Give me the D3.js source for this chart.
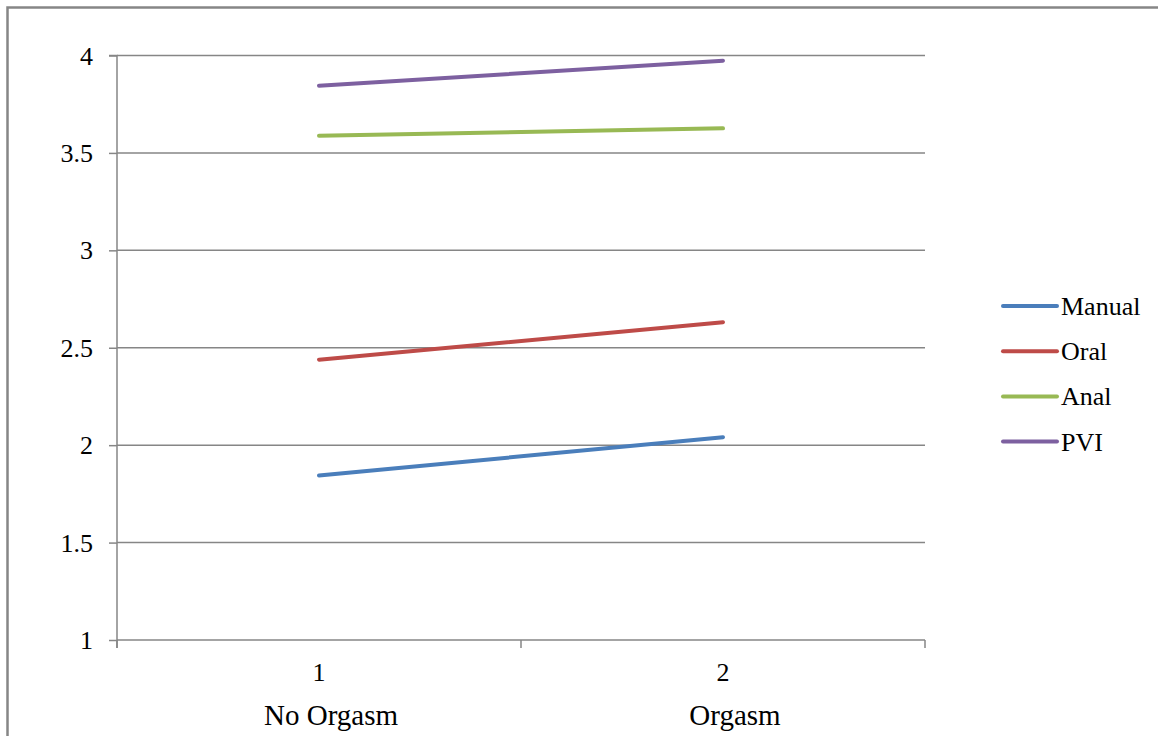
<!DOCTYPE html>
<html>
<head>
<meta charset="utf-8">
<script src="https://cdn.jsdelivr.net/npm/d3@7"></script>
<style>
  html, body { margin: 0; padding: 0; background: #fff; }
  svg { display: block; }
</style>
</head>
<body>
<svg id="chart" width="1158" height="736"></svg>
<script>
const categories = ["1", "2"];
const categoryNames = ["No Orgasm", "Orgasm"];
const seriesNames = ["Manual", "Oral", "Anal", "PVI"];
const manual = [1.844, 2.041];
const oral = [2.439, 2.631];
const anal = [3.588, 3.626];
const pvi = [3.845, 3.973];
const yTicks = [1, 1.5, 2, 2.5, 3, 3.5, 4];
const colors = ["#4a7ebb", "#be4b48", "#98b954", "#7d60a0"];

const seriesValues = [manual, oral, anal, pvi];
const fontName = "Liberation Serif";

const svg = d3.select("#chart");
const pLeft = 117, pRight = 925, pTop = 55.5, pBottom = 640;

// outer border
svg.append("rect")
  .attr("x", 7.5).attr("y", 7.5)
  .attr("width", 1160).attr("height", 740)
  .attr("fill", "none").attr("stroke", "#868686").attr("stroke-width", 2.5);

const x = d3.scaleBand().domain(categories).range([pLeft, pRight]).paddingInner(0).paddingOuter(0);
const y = d3.scaleLinear().domain([1, 4]).range([pBottom, pTop]);
const xc = c => x(c) + x.bandwidth() / 2;

// gridlines
svg.append("g").selectAll("line").data(yTicks.filter(d => d !== 1)).join("line")
  .attr("x1", pLeft).attr("x2", pRight)
  .attr("y1", d => y(d)).attr("y2", d => y(d))
  .attr("stroke", "#868686").attr("stroke-width", 1.5);

// y axis (ticks and domain from d3 axis; labels drawn below)
const gy = svg.append("g").attr("transform", `translate(${pLeft},0)`)
  .call(d3.axisLeft(y).tickValues(yTicks).tickSize(8).tickFormat(""));
gy.select(".domain").attr("stroke", "#868686").attr("stroke-width", 1.5).attr("d", `M-8,${pTop}H0V${pBottom + 8}`);
gy.selectAll(".tick line").attr("stroke", "#868686").attr("stroke-width", 1.5);
gy.selectAll(".tick text").remove();

svg.selectAll("text.ylab").data(yTicks).join("text").attr("class", "ylab")
  .attr("x", pLeft - 24).attr("y", d => y(d) + 9)
  .attr("text-anchor", "end").attr("font-size", 26)
  .text(d => d3.format("")(d));

// x axis
svg.append("line").attr("x1", pLeft).attr("x2", pRight).attr("y1", pBottom).attr("y2", pBottom)
  .attr("stroke", "#868686").attr("stroke-width", 1.5);
const boundaries = [pLeft, ...categories.map(c => x(c) + x.bandwidth())];
svg.selectAll("line.xt").data(boundaries).join("line").attr("class", "xt")
  .attr("x1", d => d).attr("x2", d => d).attr("y1", pBottom).attr("y2", pBottom + 8)
  .attr("stroke", "#868686").attr("stroke-width", 1.5);
svg.selectAll("text.xcat").data(categories).join("text").attr("class", "xcat")
  .attr("x", d => xc(d)).attr("y", pBottom + 41)
  .attr("text-anchor", "middle").attr("font-size", 26).text(d => d);
svg.selectAll("text.xname").data(categoryNames).join("text").attr("class", "xname")
  .attr("x", (d, i) => xc(categories[i]) + 12).attr("y", pBottom + 85)
  .attr("text-anchor", "middle").attr("font-size", 29).text(d => d);

// lines
const line = d3.line().x((d, i) => xc(categories[i])).y(d => y(d));
svg.append("g").selectAll("path").data(seriesValues).join("path")
  .attr("d", d => line(d))
  .attr("fill", "none")
  .attr("stroke", (d, i) => colors[i])
  .attr("stroke-width", 4)
  .attr("stroke-linecap", "round");

// legend
svg.selectAll("line.leg").data(seriesNames).join("line").attr("class", "leg")
  .attr("x1", 1003).attr("x2", 1057)
  .attr("y1", (d, i) => 306 + i * 45.2).attr("y2", (d, i) => 306 + i * 45.2)
  .attr("stroke", (d, i) => colors[i]).attr("stroke-width", 4).attr("stroke-linecap", "round");
svg.selectAll("text.legt").data(seriesNames).join("text").attr("class", "legt")
  .attr("x", 1061).attr("y", (d, i) => 315 + i * 45.2).attr("font-size", 26).text(d => d);

function applyFont() {
  svg.selectAll("text").style("font-family", `"${fontName}", "Times New Roman", Tinos, Times`);
}
applyFont();
if (document.fonts && document.fonts.load) {
  document.fonts.load(`26px "${fontName}"`, "No Orgasm 3.5 Manual").then(applyFont).catch(() => {});
  document.fonts.ready.then(applyFont);
}
</script>
</body>
</html>
